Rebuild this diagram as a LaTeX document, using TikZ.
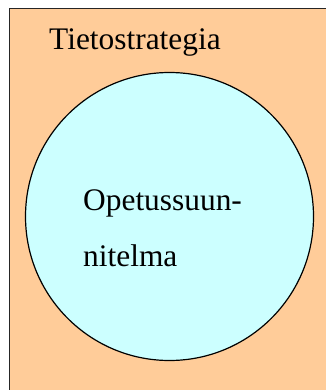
\documentclass[tikz,border=0pt]{standalone}
\usepackage{fontspec}
\setmainfont{Liberation Serif}
\usepackage{tikz}
\definecolor{stratfill}{HTML}{FFCC99}
\definecolor{opsfill}{HTML}{CCFFFF}

\begin{document}
\begin{tikzpicture}[
  x=1pt, y=-1pt,
  lbl/.style={font=\fontsize{31.4}{56.7}\selectfont, inner sep=0pt, align=left},
  strat/.style={draw=black!85, line width=1pt, fill=stratfill},
  ops/.style={circle, draw=black, line width=1.2pt, fill=opsfill, minimum size=288pt, inner sep=0pt}
]
  \useasboundingbox (0,0) rectangle (325,390);
  \path[strat] (9,9) rectangle (330,396);
  \node[ops] (ops) at (169.5,216.5) {};
  \node[lbl, anchor=base west] (stratlbl) at (49,50) {Tietostrategia};
  % base = last line
  \node[lbl, anchor=base west] (opslbl) at (83,266.7) {Opetussuun-\\nitelma};
\end{tikzpicture}
\end{document}
